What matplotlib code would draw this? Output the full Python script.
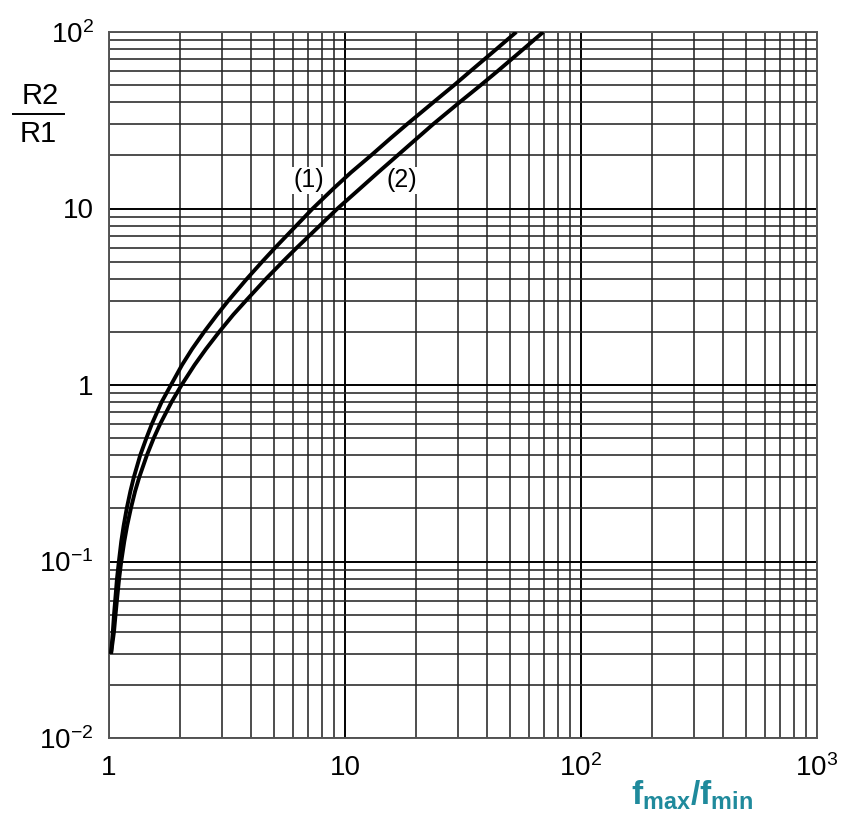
import matplotlib
matplotlib.use("Agg")
import matplotlib.pyplot as plt
from matplotlib.lines import Line2D
from matplotlib.ticker import LogLocator, NullFormatter

plt.rcParams['font.family'] = ['Liberation Sans', 'DejaVu Sans']
plt.rcParams['mathtext.fontset'] = 'custom'
plt.rcParams['mathtext.rm'] = 'Liberation Sans'
plt.rcParams['mathtext.it'] = 'Liberation Sans'
plt.rcParams['mathtext.bf'] = 'Liberation Sans:bold'

# values: R2/R1 levels and the f_max/f_min where each curve reaches them
ratio_levels = [0.03, 0.04, 0.05, 0.06, 0.08, 0.1, 0.13, 0.16, 0.2, 0.25, 0.3, 0.4, 0.5,
                0.6, 0.8, 1, 1.3, 1.6, 2, 2.5, 3, 4, 5, 6, 8, 10, 13, 16, 20, 25, 30,
                40, 50, 60, 80, 100]
fratio_curve1 = [1.02, 1.038, 1.05, 1.062, 1.081, 1.101, 1.127, 1.154, 1.189, 1.232, 1.274,
                 1.356, 1.44, 1.518, 1.67, 1.83, 2.04, 2.25, 2.53, 2.87, 3.2, 3.84, 4.46,
                 5.06, 6.22, 7.3, 8.95, 10.6, 12.9, 15.6, 18.3, 23.7, 29.0, 34.0, 43.8, 53.2]
fratio_curve2 = [1.02, 1.05, 1.066, 1.08, 1.104, 1.127, 1.161, 1.194, 1.238, 1.29, 1.343,
                 1.447, 1.547, 1.646, 1.84, 2.03, 2.305, 2.576, 2.93, 3.36, 3.8, 4.63, 5.45,
                 6.25, 7.82, 9.3, 11.6, 13.8, 16.7, 20.2, 23.6, 30.6, 37.6, 44.3, 57.0, 69.2]

curve_labels = ['(1)', '(2)']
label_pos = [(7.0, 14.5), (17.4, 14.5)]

x_ticks = [1, 10, 100, 1000]
x_tick_labels = ['1', '10', '$10^2$', '$10^3$']
y_ticks = [0.01, 0.1, 1, 10, 100]
y_tick_labels = ['$10^{-2}$', '$10^{-1}$', '1', '10', '$10^2$']

W, H = 847, 826
fig = plt.figure(figsize=(W / 100, H / 100), dpi=100)
ax = fig.add_axes([109 / W, 88 / H, 708 / W, 706 / H])

ax.set_xscale('log')
ax.set_yscale('log')
ax.set_xlim(1, 1000)
ax.set_ylim(0.01, 100)

ax.xaxis.set_minor_locator(LogLocator(base=10, subs=range(2, 10)))
ax.yaxis.set_minor_locator(LogLocator(base=10, subs=range(2, 10)))
ax.xaxis.set_minor_formatter(NullFormatter())
ax.yaxis.set_minor_formatter(NullFormatter())
ax.set_xticks(x_ticks)
ax.set_xticklabels(x_tick_labels)
ax.set_yticks(y_ticks)
ax.set_yticklabels(y_tick_labels)
ax.tick_params(which='both', length=0)
ax.tick_params(axis='x', pad=12, labelsize=20)
ax.tick_params(axis='y', pad=11, labelsize=20)

ax.grid(True, which='major', color='#000000', lw=1.4)
ax.grid(True, which='minor', color='#262626', lw=1.15)
ax.set_axisbelow(True)
for s in ax.spines.values():
    s.set_color('#555555')
    s.set_linewidth(1.4)

ax.plot(fratio_curve1, ratio_levels, color='black', lw=2.8, solid_capstyle='butt', zorder=4)
ax.plot(fratio_curve2, ratio_levels, color='black', lw=2.8, solid_capstyle='butt', zorder=4)

for txt, (lx, ly) in zip(curve_labels, label_pos):
    ax.text(lx, ly, txt, fontsize=18, ha='center', va='center', zorder=3,
            bbox=dict(facecolor='white', edgecolor='none', pad=1.0))

# y label drawn as a fraction
fig.text(40 / W, 1 - 96 / H, 'R2', fontsize=21, ha='center', va='center')
fig.text(38 / W, 1 - 134 / H, 'R1', fontsize=21, ha='center', va='center')
fig.add_artist(Line2D([13 / W, 64 / W], [1 - 114 / H, 1 - 114 / H],
                      transform=fig.transFigure, color='black', lw=1.4))

fig.text(692 / W, 1 - 795 / H, r'$\mathbf{f_{max}/f_{min}}$', fontsize=24,
         color='#1f8a9c', ha='center', va='center')

fig.savefig('out.png', dpi=100)
